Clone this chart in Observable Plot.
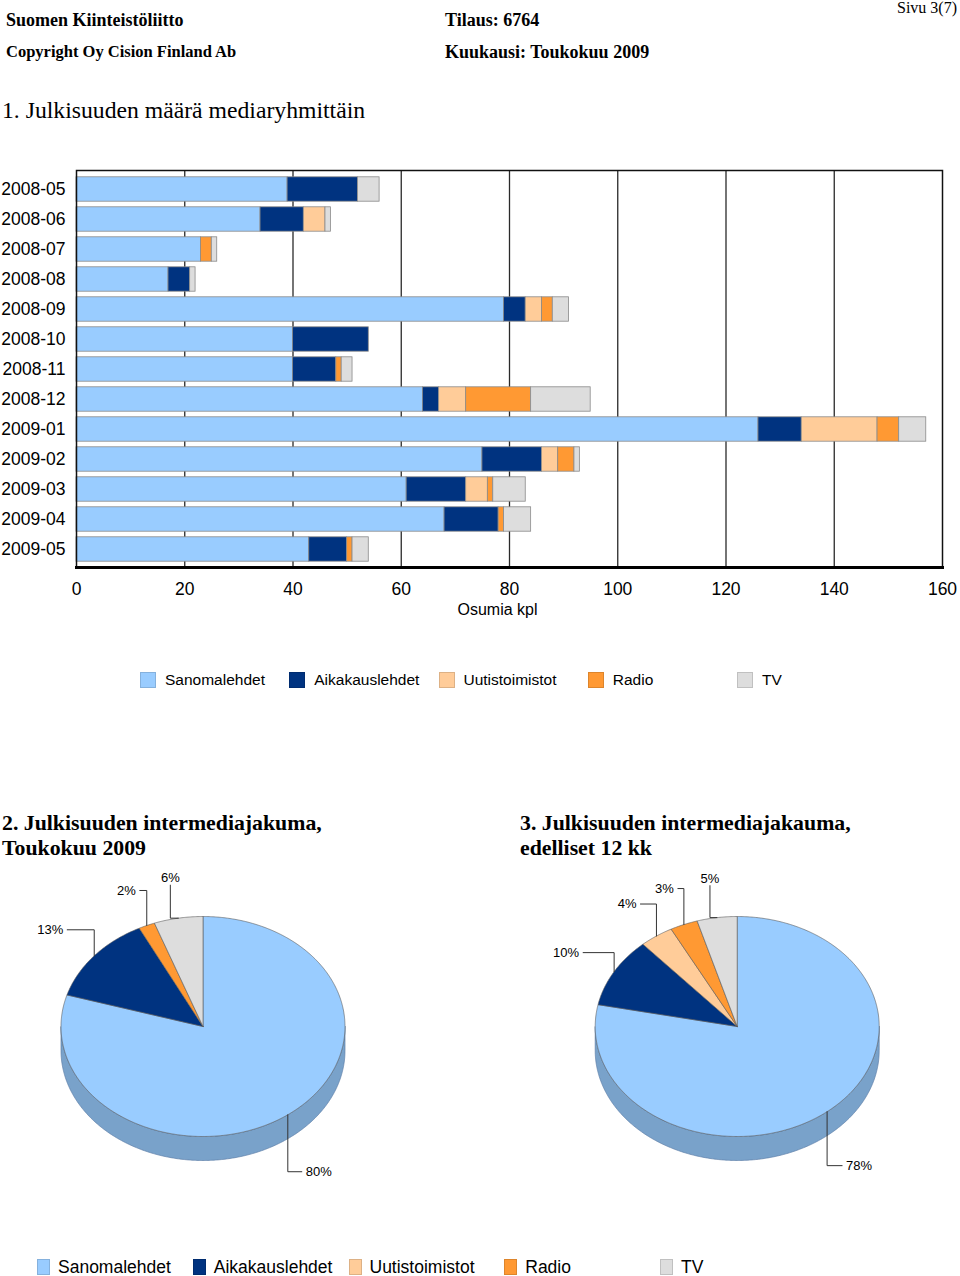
<!DOCTYPE html>
<html>
<head>
<meta charset="utf-8">
<script src="https://cdn.jsdelivr.net/npm/d3@7"></script>
<script src="https://cdn.jsdelivr.net/npm/@observablehq/plot@0.6"></script>
<style>
  html, body { margin: 0; padding: 0; background: #fff; }
  #page { position: relative; width: 960px; height: 1276px; overflow: hidden; background: #fff; color: #000; }
  .t { position: absolute; white-space: nowrap; line-height: 20px; }
  .serif { font-family: "Liberation Serif", "Times New Roman", serif; }
  .sans { font-family: "Liberation Sans", Arial, sans-serif; }
  .b { font-weight: bold; }
  .sw { position: absolute; box-sizing: border-box; }
</style>
</head>
<body>
<div id="page"></div>
<script>
// ---------- data ----------
const months = ["2008-05","2008-06","2008-07","2008-08","2008-09","2008-10","2008-11","2008-12","2009-01","2009-02","2009-03","2009-04","2009-05"];
const sanomalehdet   = [39, 34, 23, 17, 79, 40, 40, 64, 126, 75, 61, 68, 43];
const aikakauslehdet = [13,  8,  0,  4,  4, 14,  8,  3,   8, 11, 11, 10,  7];
const uutistoimistot = [ 0,  4,  0,  0,  3,  0,  0,  5,  14,  3,  4,  0,  0];
const radio          = [ 0,  0,  2,  0,  2,  0,  1, 12,   4,  3,  1,  1,  1];
const tv             = [ 4,  1,  1,  1,  3,  0,  2, 11,   5,  1,  6,  5,  3];
const categories = ["Sanomalehdet","Aikakauslehdet","Uutistoimistot","Radio","TV"];
const xTicks = [0, 20, 40, 60, 80, 100, 120, 140, 160];

const colors = ["#99CCFF","#003380","#FFCC99","#FF9933","#DDDDDD"];
const series = [sanomalehdet, aikakauslehdet, uutistoimistot, radio, tv];

const page = document.getElementById("page");
function addText(txt, cls, left, cy, size, extra) {
  const d = document.createElement("div");
  d.className = "t " + cls;
  d.textContent = txt;
  d.style.fontSize = size + "px";
  d.style.top = (cy - 10) + "px";
  if (left !== null) d.style.left = left + "px";
  if (extra) Object.assign(d.style, extra);
  page.appendChild(d);
  return d;
}

// ---------- header ----------
addText("Suomen Kiinteistöliitto", "serif b", 6, 20, 18);
addText("Tilaus: 6764", "serif b", 445, 20, 18);
addText("Sivu 3(7)", "serif", null, 8, 16, {right: "3px"});
addText("Copyright Oy Cision Finland Ab", "serif b", 6, 52, 16.5);
addText("Kuukausi: Toukokuu 2009", "serif b", 445, 52, 18);
addText("1. Julkisuuden määrä mediaryhmittäin", "serif", 2, 110, 23.7);

// ---------- bar chart ----------
const rows = months.flatMap((m, i) => categories.map((c, j) => ({month: m, media: c, value: series[j][i]})))
  .filter(d => d.value > 0);

const bar = Plot.plot({
  width: 960,
  height: 462,
  marginLeft: 76,
  marginRight: 18,
  marginTop: 10,
  marginBottom: 55,
  style: {fontFamily: "Liberation Sans, Arial, sans-serif", fontSize: "17.5px", color: "#000", background: "transparent", overflow: "visible"},
  x: {domain: [0, 160], ticks: xTicks, tickSize: 0, tickPadding: 15, label: null},
  y: {domain: months, padding: 0, tickSize: 0, tickPadding: 11, label: null},
  color: {domain: categories, range: colors},
  marks: [
    Plot.ruleX(xTicks.filter(t => t > 0 && t < 160), {stroke: "#2a2a2a", strokeWidth: 1.3}),
    Plot.barX(rows, {y: "month", x: "value", fill: "media", stroke: "#8a8a8a", strokeWidth: 0.8, insetTop: 2.8, insetBottom: 2.8}),
    Plot.frame({stroke: "#111", strokeWidth: 1.5}),
    Plot.frame({anchor: "bottom", stroke: "#000", strokeWidth: 3}),
    Plot.text(["Osumia kpl"], {frameAnchor: "bottom", text: d => d, dy: 42, dx: -12, fontSize: 16, lineAnchor: "middle"})
  ]
});
bar.style.position = "absolute";
bar.style.left = "0px";
bar.style.top = "160px";
page.appendChild(bar);

// ---------- legends ----------
function legend(cy, x0, step, textOff, swW, swH, size) {
  categories.forEach((c, i) => {
    const s = document.createElement("div");
    s.className = "sw";
    s.style.left = (x0 + i * step) + "px";
    s.style.top = (cy - swH / 2) + "px";
    s.style.width = swW + "px";
    s.style.height = swH + "px";
    s.style.background = colors[i];
    s.style.border = "1px solid " + d3.color(colors[i]).darker(0.4);
    page.appendChild(s);
    addText(c, "sans", x0 + i * step + textOff, cy, size);
  });
}
legend(680, 140, 149.25, 25, 16, 16, 15.5);
legend(1267, 37, 155.75, 21, 13, 16, 17.5);

// ---------- pie titles ----------
function title2(lines, left, cy) {
  lines.forEach((l, k) => addText(l, "serif b", left, cy + k * 25, 21.8));
}
title2(["2. Julkisuuden intermediajakuma,", "Toukokuu 2009"], 2, 823);
title2(["3. Julkisuuden intermediajakauma,", "edelliset 12 kk"], 520, 823);

// ---------- pies ----------
const pieMay = series.map(s => s[s.length - 1]);                  // 2009-05
const pie12 = series.map(s => d3.sum(s.slice(s.length - 12)));    // 2008-06 .. 2009-05

function pie(values, cx, cy, layout) {
  const rx = 142, ry = 110, depth = 24;
  const total = d3.sum(values);
  let acc = 0;
  const slices = values.map((v, i) => {
    const a0 = acc / total * 360; acc += v; const a1 = acc / total * 360;
    return {i, v, a0, a1, pct: Math.round(v / total * 100)};
  });
  const rad = a => a * Math.PI / 180;
  const pt = (a, dy = 0) => ({x: cx + rx * Math.sin(rad(a)), y: cy - ry * Math.cos(rad(a)) + dy});
  const arc = (a0, a1, dy = 0) => {
    const n = Math.max(2, Math.ceil((a1 - a0) / 0.5));
    return d3.range(n + 1).map(k => pt(a0 + (a1 - a0) * k / n, dy));
  };
  const marks = [];
  // sides (front half only)
  slices.forEach(s => {
    const b0 = Math.max(s.a0, 90), b1 = Math.min(s.a1, 270);
    if (s.v > 0 && b1 > b0) {
      const poly = [...arc(b0, b1), ...arc(b0, b1, depth).reverse()];
      poly.push(poly[0]);
      marks.push(Plot.line(poly, {x: "x", y: "y", fill: d3.color(colors[s.i]).darker(0.65).formatHex(), stroke: "#5d7ea8", strokeWidth: 0.7}));
    }
  });
  // tops
  slices.forEach(s => {
    if (s.v <= 0) return;
    const poly = [{x: cx, y: cy}, ...arc(s.a0, s.a1), {x: cx, y: cy}];
    marks.push(Plot.line(poly, {x: "x", y: "y", fill: colors[s.i], stroke: "#5a5a5a", strokeWidth: 0.6}));
  });
  // leaders + labels
  slices.forEach(s => {
    const L = layout[s.i];
    if (s.v <= 0 || !L) return;
    const p = pt((s.a0 + s.a1) / 2);
    const sy = p.y < cy ? -1 : 1, sx = p.x < cx ? -1 : 1;
    let e, elbow, lab;
    if (L.first === "v") {
      elbow = {x: p.x, y: p.y + sy * L.v};
      e = {x: elbow.x + sx * L.h, y: elbow.y};
      lab = {x: e.x + sx * 4, y: e.y, anchor: sx < 0 ? "end" : "start"};
    } else {
      elbow = {x: p.x + sx * L.h, y: p.y};
      e = {x: elbow.x, y: elbow.y + sy * L.v};
      lab = {x: e.x, y: e.y - 7, anchor: "middle"};
    }
    marks.push(Plot.line([p, elbow, e], {x: "x", y: "y", stroke: "#333", strokeWidth: 1}));
    marks.push(Plot.text([lab], {x: "x", y: "y", text: () => s.pct + "%", textAnchor: lab.anchor, lineAnchor: "middle", fontSize: 13, fill: "#000"}));
  });
  return Plot.plot({
    width: 480, height: 330,
    marginLeft: 0, marginRight: 0, marginTop: 0, marginBottom: 0,
    x: {domain: [0, 480], range: [0, 480], axis: null},
    y: {domain: [0, 330], range: [0, 330], axis: null},
    style: {fontFamily: "Liberation Sans, Arial, sans-serif", background: "transparent", overflow: "visible"},
    marks
  });
}

const layout1 = [
  {first: "v", v: 57, h: 14},
  {first: "v", v: 26, h: 27},
  null,
  {first: "v", v: 35, h: 7},
  {first: "h", h: 8, v: 33}
];
const layout2 = [
  {first: "v", v: 54, h: 15},
  {first: "v", v: 19, h: 31},
  {first: "v", v: 32, h: 16},
  {first: "v", v: 36, h: 6},
  {first: "h", h: 7, v: 32}
];

const p1 = pie(pieMay, 202.5, 166, layout1);
p1.style.position = "absolute"; p1.style.left = "0px"; p1.style.top = "860px";
page.appendChild(p1);
const p2 = pie(pie12, 256.7, 166, layout2);
p2.style.position = "absolute"; p2.style.left = "480px"; p2.style.top = "860px";
page.appendChild(p2);
</script>
</body>
</html>
